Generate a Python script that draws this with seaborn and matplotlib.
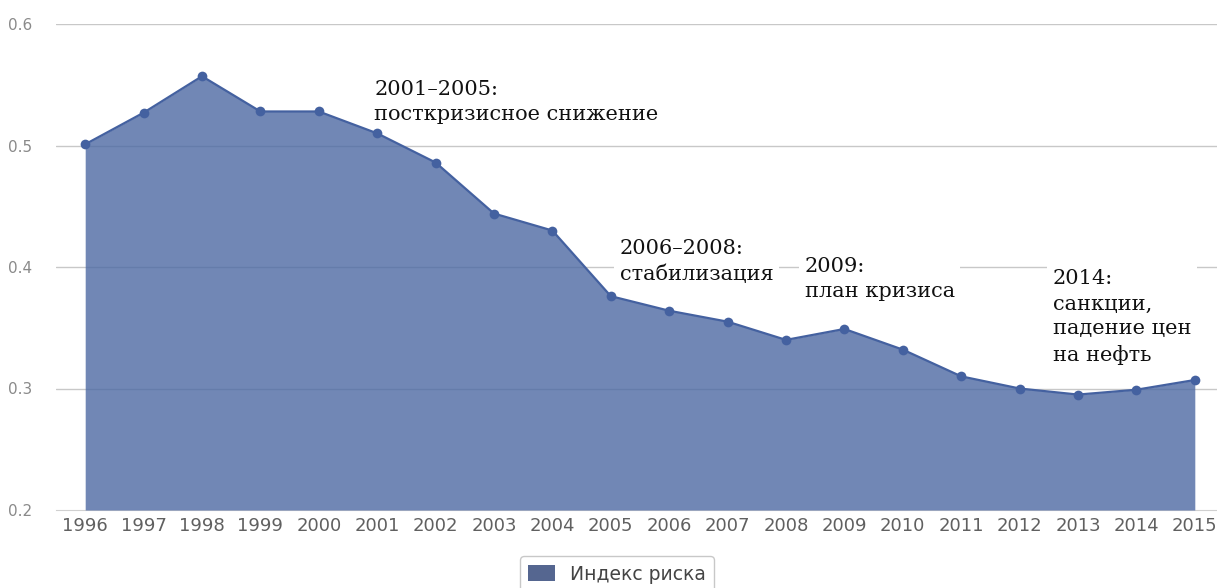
import numpy as np
import pandas as pd
import matplotlib
matplotlib.use("Agg")
import matplotlib.pyplot as plt
import seaborn as sns
from matplotlib.patches import Patch

# --------------------------
# DATA
# --------------------------
years = [1996, 1997, 1998, 1999, 2000, 2001, 2002, 2003, 2004, 2005,
         2006, 2007, 2008, 2009, 2010, 2011, 2012, 2013, 2014, 2015]
risk_index = [0.501, 0.527, 0.557, 0.528, 0.528, 0.510, 0.486, 0.444, 0.430, 0.376,
              0.364, 0.355, 0.340, 0.349, 0.332, 0.310, 0.300, 0.295, 0.299, 0.307]
y_ticks = [0.2, 0.3, 0.4, 0.5, 0.6]
series_name = "Индекс риска"

notes = [
    (2000.95, 0.554, "2001–2005:\nпосткризисное снижение"),
    (2005.15, 0.423, "2006–2008:\nстабилизация"),
    (2008.32, 0.408, "2009:\nплан кризиса"),
    (2012.57, 0.398, "2014:\nсанкции,\nпадение цен\nна нефть"),
]

df = pd.DataFrame({"year": years, "risk": risk_index})

sns.set_style("white")

fill_color = "#4d69a3"
line_color = "#4461a0"

fig = plt.figure(figsize=(12.17, 5.88), dpi=100)
ax = fig.add_axes([56 / 1217, 1 - 510 / 588, 1168 / 1217, 486 / 588])

# gridlines behind the area
for t in y_ticks[1:]:
    ax.axhline(t, color="#c8c8c8", lw=1, zorder=0)

ax.fill_between(df["year"], df["risk"], 0.2, color=fill_color, alpha=0.8,
                lw=0, zorder=1)
sns.lineplot(data=df, x="year", y="risk", ax=ax, color=line_color, lw=1.6,
             marker="o", markersize=7, markeredgewidth=0, zorder=2)

ax.set_xlim(1995.5, 2015.5)
ax.set_ylim(0.2, 0.6)
ax.set_xlabel("")
ax.set_ylabel("")

ax.set_xticks(years)
ax.set_xticklabels([str(y) for y in years], fontsize=13, color="#606060")
ax.set_xticks(np.arange(1995.5, 2016, 1), minor=True)
ax.tick_params(axis="x", which="major", length=0, pad=5)
ax.tick_params(axis="x", which="minor", length=5, color="#d0d0d0", width=1)

ax.set_yticks(y_ticks)
ax.set_yticklabels(["0.2", "0.3", "0.4", "0.5", "0.6"], fontsize=11,
                   color="#8a8a8a")
ax.tick_params(axis="y", length=0, pad=17)

for s in ["top", "right", "left"]:
    ax.spines[s].set_visible(False)
ax.spines["bottom"].set_color("#d0d0d0")
ax.spines["bottom"].set_zorder(0)

# text boxes hide the gridlines but stay under the area
for x, y, txt in notes:
    ax.text(x, y, txt, fontsize=15, family="DejaVu Serif", color="#111111",
            va="top", ha="left", linespacing=1.4, zorder=0.5,
            bbox=dict(facecolor="white", edgecolor="none", pad=4))

handles = [Patch(facecolor="#556690", edgecolor="none", label=series_name)]
fig.legend(handles=handles, loc="center", bbox_to_anchor=(617 / 1217, 1 - 574 / 588),
           frameon=True, fontsize=13.5, handlelength=1.4, handleheight=0.9,
           borderpad=0.45, edgecolor="#bbbbbb", fancybox=True,
           labelcolor="#444444")

fig.savefig("out.png", dpi=100)
